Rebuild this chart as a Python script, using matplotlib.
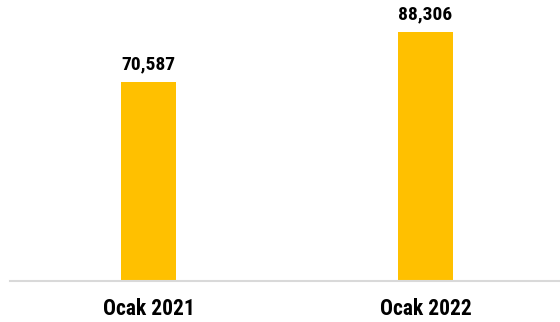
import matplotlib
matplotlib.use('Agg')
import matplotlib.pyplot as plt

donemler = ['Ocak 2021', 'Ocak 2022']
degerler = [70587, 88306]
etiketler = ['70,587', '88,306']

plt.rcParams['font.family'] = ['Roboto Condensed', 'DejaVu Sans']

fig = plt.figure(figsize=(5.6, 3.22), dpi=100)
ax = fig.add_axes([10 / 560, 41 / 322, 550 / 560, 281 / 322])

x = list(range(len(donemler)))
bars = ax.bar(x, degerler, width=0.2, color='#FFC000', zorder=2)

for b, txt in zip(bars, etiketler):
    ax.annotate(txt, (b.get_x() + b.get_width() / 2, b.get_height()),
                xytext=(0, 9), textcoords='offset pixels',
                ha='center', va='bottom', fontsize=14, fontweight='bold')

ax.set_xlim(-0.5, 1.486)
ax.set_ylim(0, 99750)
ax.set_xticks(x)
ax.set_xticklabels(donemler, fontsize=15.5, fontweight='bold')
ax.tick_params(axis='x', length=0, pad=12)
ax.set_yticks([])
for s in ['top', 'right', 'left']:
    ax.spines[s].set_visible(False)
ax.spines['bottom'].set_color('#D9D9D9')
ax.spines['bottom'].set_linewidth(1.5)

fig.savefig('out.png', dpi=100)
